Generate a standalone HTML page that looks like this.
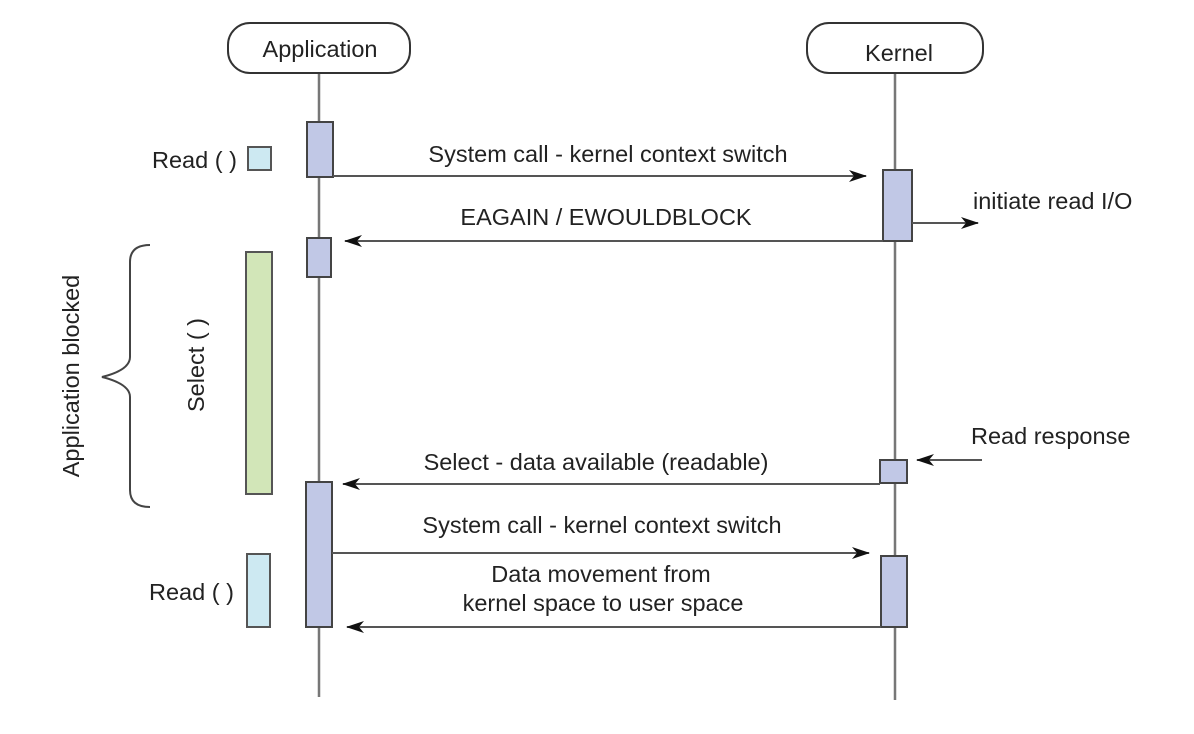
<!DOCTYPE html><html><head><style>body{margin:0;background:#fff}svg{display:block}text{font-family:"Liberation Sans",sans-serif;font-size:23.5px;fill:#222}</style></head><body>
<svg width="1194" height="734" viewBox="0 0 1194 734">
<defs><marker id="a" markerWidth="18" markerHeight="12" refX="17" refY="6" orient="auto" markerUnits="userSpaceOnUse"><path d="M0,0 L18,6 L0,12 L5,6 Z" fill="#111"/></marker></defs>
<g stroke="#777" stroke-width="2.5"><line x1="319" y1="73" x2="319" y2="697"/><line x1="895" y1="73" x2="895" y2="700"/></g>
<rect x="228" y="23" width="182" height="50" rx="22" fill="#fff" stroke="#333" stroke-width="2"/>
<rect x="807" y="23" width="176" height="50" rx="22" fill="#fff" stroke="#333" stroke-width="2"/>
<text x="320" y="57" text-anchor="middle">Application</text>
<text x="899" y="61" text-anchor="middle">Kernel</text>
<g fill="#c1c8e6" stroke="#444" stroke-width="2">
<rect x="307" y="122" width="26" height="55"/><rect x="307" y="238" width="24" height="39"/><rect x="306" y="482" width="26" height="145"/>
<rect x="883" y="170" width="29" height="71"/><rect x="880" y="460" width="27" height="23"/><rect x="881" y="556" width="26" height="71"/></g>
<g stroke="#555" stroke-width="2"><rect x="248" y="147" width="23" height="23" fill="#cde9f2"/><rect x="247" y="554" width="23" height="73" fill="#cde9f2"/><rect x="246" y="252" width="26" height="242" fill="#d2e6b8"/></g>
<g stroke="#555" stroke-width="2" marker-end="url(#a)" fill="none">
<line x1="333" y1="176" x2="866" y2="176"/><line x1="883" y1="241" x2="345" y2="241"/><line x1="912" y1="223" x2="978" y2="223"/>
<line x1="982" y1="460" x2="917" y2="460"/><line x1="880" y1="484" x2="343" y2="484"/><line x1="332" y1="553" x2="869" y2="553"/><line x1="881" y1="627" x2="347" y2="627"/></g>
<path d="M150,245 Q130,245 130,262 L130,357 Q130,370 102,377 Q130,384 130,397 L130,490 Q130,507 150,507" fill="none" stroke="#444" stroke-width="2"/>
<text x="152" y="168">Read ( )</text><text x="149" y="600">Read ( )</text>
<text x="608" y="162" text-anchor="middle">System call - kernel context switch</text>
<text x="606" y="225" text-anchor="middle">EAGAIN / EWOULDBLOCK</text>
<text x="973" y="209">initiate read I/O</text><text x="971" y="444">Read response</text>
<text x="596" y="470" text-anchor="middle">Select - data available (readable)</text>
<text x="602" y="533" text-anchor="middle">System call - kernel context switch</text>
<text x="601" y="582" text-anchor="middle">Data movement from</text><text x="603" y="611" text-anchor="middle">kernel space to user space</text>
<text transform="translate(79,376) rotate(-90)" text-anchor="middle">Application blocked</text>
<text transform="translate(204,365) rotate(-90)" text-anchor="middle">Select ( )</text>
</svg></body></html>
